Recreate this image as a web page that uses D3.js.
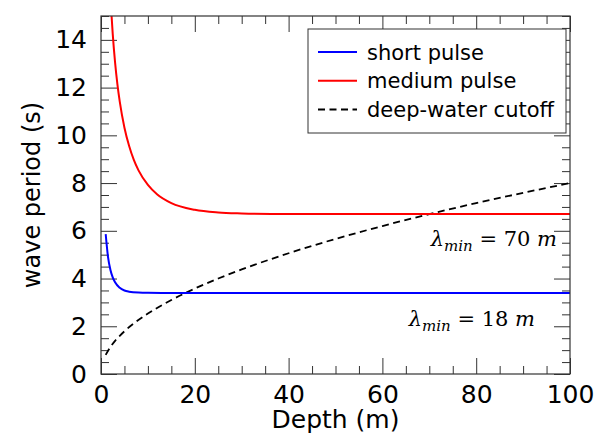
<!DOCTYPE html>
<html>
<head>
<meta charset="utf-8">
<script src="https://cdn.jsdelivr.net/npm/d3@7"></script>
<style>
  body { margin: 0; background: #fff; }
  svg text { font-family: "DejaVu Sans", sans-serif; fill: #000; }
  .math { font-family: "DejaVu Serif", serif; }
</style>
</head>
<body>
<svg id="chart" width="597" height="433"></svg>
<script>
// depth (m) and wave period (s)
var shortDepth = [1, 1.5, 2, 2.5, 3, 4, 5, 6, 8, 10, 15, 20, 30, 40, 50, 60, 70, 80, 90, 100];
var shortPeriod = [5.86, 4.90, 4.37, 4.05, 3.84, 3.61, 3.50, 3.45, 3.41, 3.40, 3.395, 3.395, 3.395, 3.395, 3.395, 3.395, 3.395, 3.395, 3.395, 3.395];

var mediumDepth = [2.2, 2.5, 3, 3.5, 4, 5, 6, 7, 8, 10, 12, 15, 20, 25, 30, 40, 50, 60, 70, 80, 90, 100];
var mediumPeriod = [15.17, 14.25, 13.06, 12.14, 11.41, 10.32, 9.55, 8.97, 8.53, 7.92, 7.52, 7.16, 6.88, 6.77, 6.73, 6.70, 6.70, 6.70, 6.70, 6.70, 6.70, 6.70];

var cutoffDepth = [1, 2, 3, 4, 5, 7, 10, 15, 20, 25, 30, 40, 50, 60, 70, 80, 90, 100];
var cutoffPeriod = [0.80, 1.13, 1.39, 1.60, 1.79, 2.12, 2.53, 3.10, 3.58, 4.00, 4.38, 5.06, 5.66, 6.20, 6.70, 7.16, 7.59, 8.00];

var xTicks = [0, 20, 40, 60, 80, 100];
var yTicks = [0, 2, 4, 6, 8, 10, 12, 14];

var seriesNames = ["short pulse", "medium pulse", "deep-water cutoff"];

(function() {
    "use strict";

    var svg = d3.select("#chart");
    var margin = {top: 16, right: 27, bottom: 59, left: 101};
    var width = +svg.attr("width") - margin.left - margin.right;
    var height = +svg.attr("height") - margin.top - margin.bottom;
    var axisColor = "#333";

    var x = d3.scaleLinear().domain([0, 100]).range([0, width]);
    var y = d3.scaleLinear().domain([0, 15]).range([height, 0]);

    var g = svg.append("g").attr("transform", "translate(" + margin.left + "," + margin.top + ")");

    svg.append("defs").append("clipPath").attr("id", "plotclip")
        .append("rect").attr("width", width).attr("height", height);

    var xMinor = d3.range(0, 101, 5).filter(function(d) { return d % 20 !== 0; });
    var yMinor = d3.range(0, 15.01, 0.5).filter(function(d) { return d % 2 !== 0; });

    var styleAxis = function(sel) {
        sel.select(".domain").remove();
        sel.selectAll("line").attr("stroke", axisColor).attr("stroke-width", 1);
        sel.selectAll("text").style("font-size", "25px").attr("fill", "#000");
    };

    // bottom
    g.append("g").attr("transform", "translate(0," + height + ")")
        .call(d3.axisBottom(x).tickValues(xTicks).tickSize(-16).tickPadding(11))
        .call(styleAxis)
        .selectAll("text").attr("dy", "0.71em");
    g.append("g").attr("transform", "translate(0," + height + ")")
        .call(d3.axisBottom(x).tickValues(xMinor).tickSize(-8).tickFormat(""))
        .call(styleAxis);
    // top
    g.append("g")
        .call(d3.axisTop(x).tickValues(xTicks).tickSize(-16).tickFormat(""))
        .call(styleAxis);
    g.append("g")
        .call(d3.axisTop(x).tickValues(xMinor).tickSize(-8).tickFormat(""))
        .call(styleAxis);
    // left
    g.append("g")
        .call(d3.axisLeft(y).tickValues(yTicks).tickSize(-16).tickPadding(14))
        .call(styleAxis);
    g.append("g")
        .call(d3.axisLeft(y).tickValues(yMinor).tickSize(-8).tickFormat(""))
        .call(styleAxis);
    // right
    g.append("g").attr("transform", "translate(" + width + ",0)")
        .call(d3.axisRight(y).tickValues(yTicks).tickSize(-16).tickFormat(""))
        .call(styleAxis);
    g.append("g").attr("transform", "translate(" + width + ",0)")
        .call(d3.axisRight(y).tickValues(yMinor).tickSize(-8).tickFormat(""))
        .call(styleAxis);

    var line = d3.line()
        .x(function(d) { return x(d[0]); })
        .y(function(d) { return y(d[1]); })
        .curve(d3.curveMonotoneX);

    var plot = g.append("g").attr("clip-path", "url(#plotclip)");

    plot.append("path")
        .datum(d3.zip(cutoffDepth, cutoffPeriod))
        .attr("fill", "none").attr("stroke", "#000").attr("stroke-width", 1.8)
        .attr("stroke-dasharray", "7,4.5")
        .attr("d", line);
    plot.append("path")
        .datum(d3.zip(mediumDepth, mediumPeriod))
        .attr("fill", "none").attr("stroke", "#ff0000").attr("stroke-width", 2)
        .attr("d", line);
    plot.append("path")
        .datum(d3.zip(shortDepth, shortPeriod))
        .attr("fill", "none").attr("stroke", "#0000ff").attr("stroke-width", 2)
        .attr("d", line);

    g.append("rect")
        .attr("width", width).attr("height", height)
        .attr("fill", "none").attr("stroke", axisColor).attr("stroke-width", 1.2);

    // annotations
    var addLambda = function(xPos, yPos, value) {
        var t = g.append("text").attr("class", "math")
            .attr("x", xPos).attr("y", yPos)
            .attr("text-anchor", "end")
            .style("font-size", "21px");
        t.append("tspan").style("font-style", "italic").text("λ");
        t.append("tspan").style("font-style", "italic").style("font-size", "15px")
            .attr("dy", 5).text("min");
        t.append("tspan").attr("dy", -5).text(" = " + value + " ");
        t.append("tspan").style("font-style", "italic").text("m");
    };
    addLambda(456, 230, 70);
    addLambda(434, 310, 18);

    // legend
    var legend = svg.append("g").attr("transform", "translate(308,29)");
    legend.append("rect")
        .attr("width", 258).attr("height", 104)
        .attr("fill", "#fff").attr("stroke", axisColor).attr("stroke-width", 1);
    var legendStyles = [
        {color: "#0000ff", dash: null},
        {color: "#ff0000", dash: null},
        {color: "#000", dash: "7,4.5"}
    ];
    seriesNames.forEach(function(name, i) {
        var yy = 23 + i * 28.7;
        legend.append("line")
            .attr("x1", 10).attr("x2", 49).attr("y1", yy).attr("y2", yy)
            .attr("stroke", legendStyles[i].color).attr("stroke-width", 2)
            .attr("stroke-dasharray", legendStyles[i].dash);
        legend.append("text")
            .attr("x", 59).attr("y", yy).attr("dy", "0.36em")
            .style("font-size", "21px").text(name);
    });

    // axis titles
    svg.append("text")
        .attr("x", margin.left + width / 2).attr("y", 428)
        .attr("text-anchor", "middle").style("font-size", "25px")
        .text("Depth (m)");
    svg.append("text")
        .attr("transform", "translate(40," + (margin.top + height / 2) + ") rotate(-90)")
        .attr("text-anchor", "middle").style("font-size", "24px")
        .text("wave period (s)");
}());
</script>
</body>
</html>
